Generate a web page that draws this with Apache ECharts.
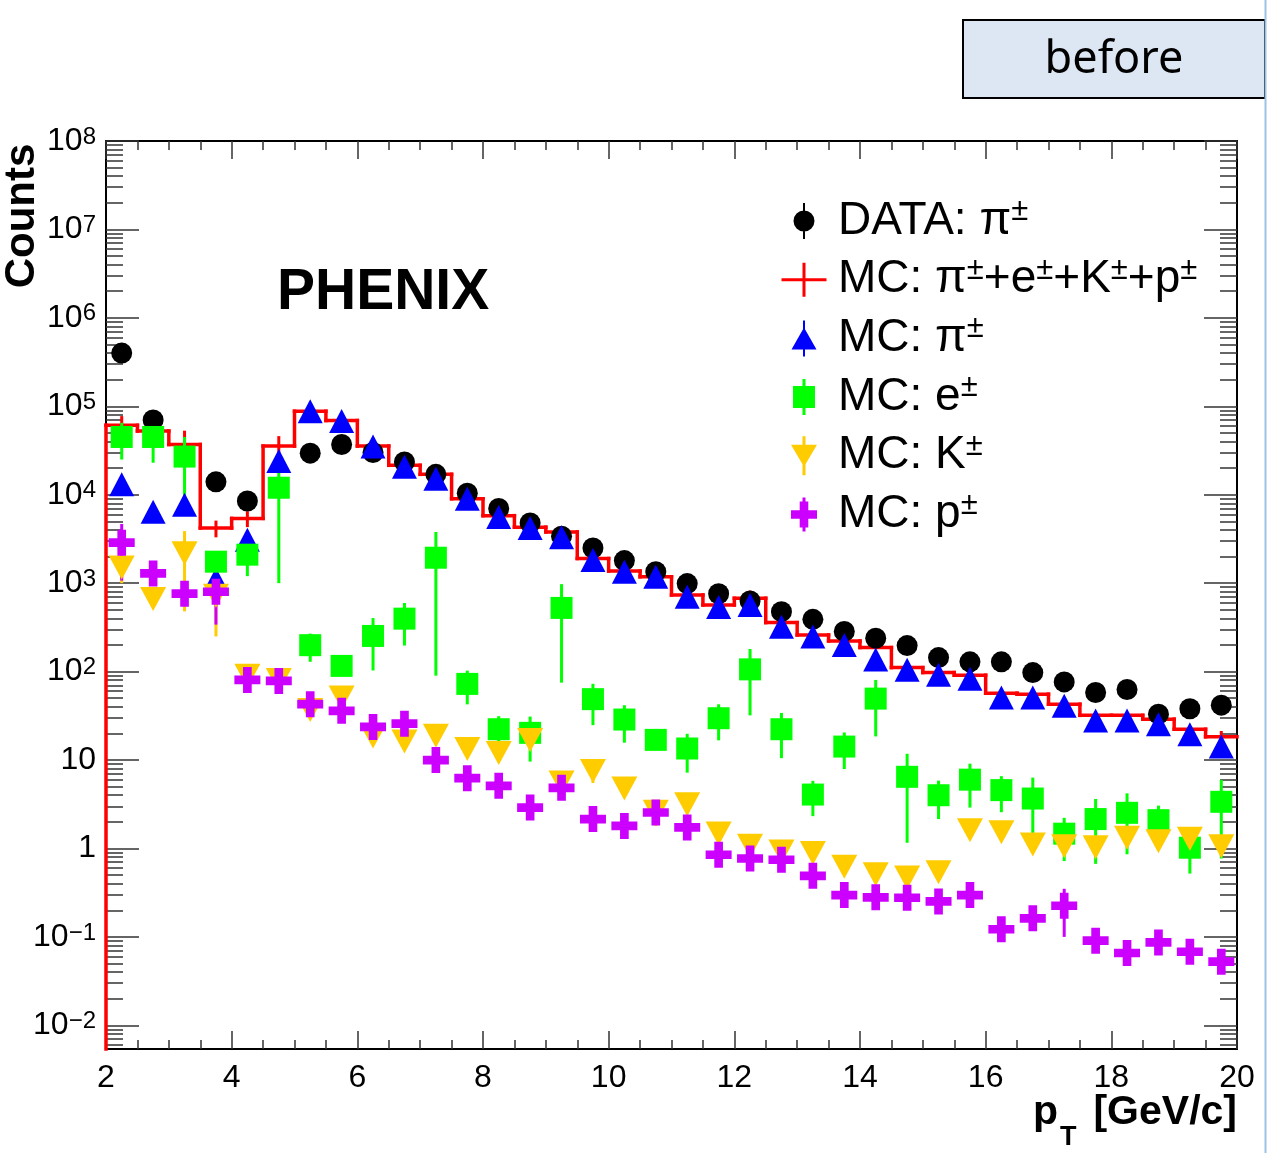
<!DOCTYPE html>
<html lang="en">
<head>
    <meta charset="UTF-8">
    <title>PHENIX pT counts - before</title>
    <script src="https://cdn.jsdelivr.net/npm/echarts@6.0.0/dist/echarts.min.js"></script>
    <style>
        html, body { margin: 0; padding: 0; background: #fff; }
        #chart { width: 1267px; height: 1153px; }
    </style>
</head>
<body>
<div id="chart"></div>
<script type="text/javascript">
    // bin centres (GeV/c), 0.5 GeV wide bins
    var binCenters = [2.25, 2.75, 3.25, 3.75, 4.25, 4.75, 5.25, 5.75, 6.25, 6.75, 7.25, 7.75,
        8.25, 8.75, 9.25, 9.75, 10.25, 10.75, 11.25, 11.75, 12.25, 12.75, 13.25, 13.75,
        14.25, 14.75, 15.25, 15.75, 16.25, 16.75, 17.25, 17.75, 18.25, 18.75, 19.25, 19.75];
    var binWidth = 0.5;

    // DATA: pi+-
    var dataPi = [4.0e5, 7.0e4, null, 1.4e4, 8.5e3, null, 2.95e4, 3.7e4, 3.0e4, 2.35e4, 1.7e4, 1.04e4,
        7.0e3, 4.8e3, 3.4e3, 2.5e3, 1.8e3, 1.35e3, 990, 760, 630, 476, 390, 285,
        238, 197, 144, 129, 129, 97.5, 76.5, 58, 62.7, 33, 38, 41.7];

    // MC: sum of all species (histogram)
    var mcSum = [6.1e4, 5.25e4, 3.7e4, 4.2e3, 5.4e3, 3.55e4, 8.8e4, 6.9e4, 3.55e4, 2.15e4, 1.7e4, 9.0e3,
        5.8e3, 4.3e3, 3.8e3, 1.9e3, 1.37e3, 1.18e3, 735, 568, 675, 358, 260, 222,
        187, 111, 97.5, 91, 57, 55.6, 42.8, 32, 32, 29, 22.3, 18.3];
    var mcSumErr = [1.65e4, 0, 1.6e4, 900, 1100, 1.05e4, 0, 0, 0, 0, 0, 0,
        0, 0, 0, 0, 0, 0, 0, 0, 150, 0, 0, 0,
        0, 0, 0, 0, 0, 0, 0, 0, 0, 0, 0, 3];

    // MC: pi+-
    var mcPi = [1.31e4, 6.4e3, 7.7e3, 1.1e3, 3.1e3, 2.4e4, 8.8e4, 6.8e4, 3.5e4, 2.07e4, 1.52e4, 9.0e3,
        5.6e3, 4.2e3, 3.3e3, 1.83e3, 1.35e3, 1.18e3, 703, 538, 568, 322, 250, 200,
        137, 105, 92, 83, 51, 51, 41, 28, 28, 25.4, 19.6, 14.2];

    // MC: e+-
    var mcE = [4.5e4, 4.5e4, 2.7e4, 1.75e3, 2.1e3, 1.2e4, 199, 116, 253, 397, 1.94e3, 72.6,
        22.3, 20.3, 525, 48.8, 28.7, 16.9, 13.5, 29.7, 106, 22.3, 4.07, 14.2,
        49.5, 6.46, 4.0, 6.0, 4.57, 3.67, 1.47, 2.15, 2.53, 2.09, 1.02, 3.37];
    var mcEErr = [2.0e4, 2.2e4, 1.8e4, 200, 900, 1.1e4, 70, 20, 150, 200, 1.85e3, 30,
        9, 10.7, 450, 24, 13, 4, 6.3, 13, 74, 11.8, 1.75, 6.3,
        31, 5.3, 1.85, 3.1, 2, 2.66, 0.75, 1.48, 1.67, 0.96, 0.5, 2.6];

    // MC: K+-
    var mcK = [1.5e3, 663, 2.18e3, 720, 90, 80.6, 36.9, 51, 18.4, 16.2, 18.8, 13.3,
        12.0, 16.9, 5.57, 7.5, 4.76, 2.6, 3.16, 1.48, 1.07, 0.925, 0.89, 0.62,
        0.51, 0.47, 0.54, 1.61, 1.53, 1.11, 1.06, 1.03, 1.32, 1.21, 1.29, 1.06];
    var mcKErr = [500, 100, 1.7e3, 470, 0, 0, 0, 0, 0, 0, 0, 0,
        0, 0, 1.5, 2, 0, 0.8, 0.7, 0, 0, 0, 0, 0,
        0, 0, 0, 0, 0.3, 0, 0, 0, 0, 0, 0, 0];

    // MC: p+-
    var mcP = [2.87e3, 1.29e3, 760, 800, 80.6, 78.5, 42.8, 36, 23.7, 25.8, 9.98, 6.24,
        5.11, 2.9, 4.85, 2.15, 1.8, 2.55, 1.73, 0.85, 0.77, 0.745, 0.49, 0.297,
        0.28, 0.277, 0.252, 0.297, 0.122, 0.162, 0.225, 0.0906, 0.0657, 0.0867, 0.068, 0.0525];
    var mcPErr = [1.8e3, 0, 0, 460, 0, 0, 0, 0, 0, 0, 0, 0,
        0, 0, 0, 0, 0, 0.4, 0, 0, 0, 0, 0, 0,
        0, 0, 0, 0, 0, 0, 0.125, 0, 0, 0, 0, 0];

    // axis
    var yMin = 0.0054, yMax = 1e8;
    var yMajor = [0.01, 0.1, 1, 10, 100, 1e3, 1e4, 1e5, 1e6, 1e7, 1e8];

    var FONT = 'Liberation Sans';
    var ANCHOR = 'M0,0 L0.01,0 L0,0.01 Z M46,40 L45.99,40 L46,39.99 Z ';

    var yMinor = [];
    for (var n = -3; n < 8; n++) {
        for (var k = 2; k <= 9; k++) {
            var tv = k * Math.pow(10, n);
            if (tv >= yMin && tv <= yMax) yMinor.push(tv);
        }
    }

    function pts(vals) {
        var out = [];
        binCenters.forEach(function (x, i) {
            if (vals[i] != null) out.push([x, vals[i]]);
        });
        return out;
    }

    function errSeries(name, vals, errs, color) {
        return {
            type: 'custom', name: name, silent: true,
            data: binCenters.map(function (x, i) { return [x, vals[i] == null ? '-' : vals[i], errs[i]]; }),
            encode: {x: 0, y: 1},
            renderItem: function (params, api) {
                var v = api.value(1), e = api.value(2), x = api.value(0);
                if (!(v > 0) || !(e > 0)) return;
                var p1 = api.coord([x, Math.max(v - e, yMin)]);
                var p2 = api.coord([x, v + e]);
                return {
                    type: 'line',
                    shape: {x1: p1[0], y1: p1[1], x2: p2[0], y2: p2[1]},
                    style: {stroke: color, lineWidth: 3}
                };
            }
        };
    }

    function scatterSeries(name, vals, symbol, size, color) {
        return {
            type: 'scatter', name: name, silent: true,
            data: pts(vals),
            symbol: symbol, symbolSize: size,
            itemStyle: {color: color, opacity: 1},
            emphasis: {disabled: true}
        };
    }

    var histSeries = {
        type: 'custom', name: 'sum', silent: true,
        itemStyle: {color: '#ff0000'},
        data: binCenters.map(function (x, i) { return [x, mcSum[i], mcSumErr[i]]; }),
        encode: {x: 0, y: 1},
        renderItem: function (params, api) {
            var i = params.dataIndex;
            var x = api.value(0), v = api.value(1), e = api.value(2);
            var l = api.coord([x - binWidth / 2, v]);
            var r = api.coord([x + binWidth / 2, v]);
            var prevY = i === 0 ? params.coordSys.y + params.coordSys.height
                : api.coord([x - binWidth / 2, mcSum[i - 1]])[1];
            var st = {stroke: '#ff0000', lineWidth: 3.5, lineCap: 'square'};
            var children = [
                {type: 'line', shape: {x1: l[0], y1: l[1], x2: r[0], y2: r[1]}, style: st},
                {type: 'line', shape: {x1: l[0], y1: prevY, x2: l[0], y2: l[1]}, style: st}
            ];
            if (e > 0) {
                var c1 = api.coord([x, Math.max(v - e, yMin)]);
                var c2 = api.coord([x, v + e]);
                children.push({type: 'line', shape: {x1: c1[0], y1: c1[1], x2: c2[0], y2: c2[1]},
                    style: {stroke: '#ff0000', lineWidth: 3}});
            }
            return {type: 'group', children: children};
        }
    };

    var SYM_DOWN = 'path://M0,0 L10,0 L5,10 Z';
    var SYM_CROSS = 'path://M3,0 L6,0 L6,3 L9,3 L9,6 L6,6 L6,9 L3,9 L3,6 L0,6 L0,3 L3,3 Z';

    var legendNames = {
        data: 'DATA: π{s|±}',
        sum: 'MC: π{s|±}+e{s|±}+K{s|±}+p{s|±}',
        pi: 'MC: π{s|±}',
        e: 'MC: e{s|±}',
        K: 'MC: K{s|±}',
        p: 'MC: p{s|±}'
    };

    function yLabel(val) {
        var n = Math.round(Math.log(val) / Math.LN10);
        if (n === 0) return '{c|1}';
        if (n === 1) return '{c|10}';
        return '{b|10}{e|' + (n < 0 ? '\u2212' + (-n) : n) + '}';
    }

    function logAxis(position, ticks, len, withLine, withLabel) {
        return {
            type: 'log', logBase: 10, min: yMin, max: yMax, position: position,
            axisLine: {show: withLine, lineStyle: {color: '#000', width: 2}},
            axisTick: {show: true, inside: true, length: len, customValues: ticks,
                lineStyle: {color: '#333', width: 1.5}},
            minorTick: {show: false},
            splitLine: {show: false},
            axisLabel: withLabel ? {
                show: true, customValues: yMajor, margin: 10, formatter: yLabel,
                rich: {
                    c: {fontFamily: FONT, fontSize: 32, lineHeight: 32, color: '#000'},
                    b: {fontFamily: FONT, fontSize: 32, lineHeight: 32, color: '#000', verticalAlign: 'bottom'},
                    e: {fontFamily: FONT, fontSize: 24, lineHeight: 26, padding: [0, 0, 14, 0],
                        color: '#000', verticalAlign: 'top'}
                }
            } : {show: false}
        };
    }

    function xAxisCfg(position, withLabel) {
        return {
            type: 'value', min: 2, max: 20, interval: 2, position: position,
            axisLine: {show: true, onZero: false, lineStyle: {color: '#000', width: 2}},
            axisTick: {show: true, inside: true, length: 18, lineStyle: {color: '#333', width: 1.5}},
            minorTick: {show: true, splitNumber: 4, length: 9, lineStyle: {color: '#333', width: 1.5}},
            splitLine: {show: false},
            axisLabel: withLabel ? {show: true, fontFamily: FONT, fontSize: 32, color: '#000', margin: 13}
                : {show: false}
        };
    }

    var chart = echarts.init(document.getElementById('chart'));
    chart.setOption({
        animation: false,
        backgroundColor: '#fff',
        grid: {left: 106, right: 30, top: 141, bottom: 104, containLabel: false, outerBoundsMode: 'none'},
        xAxis: [xAxisCfg('bottom', true), xAxisCfg('top', false)],
        yAxis: [
            logAxis('left', yMajor, 33, true, true),
            logAxis('left', yMinor, 17, false, false),
            logAxis('right', yMajor, 33, true, false),
            logAxis('right', yMinor, 17, false, false)
        ],
        legend: {
            orient: 'vertical', left: 781, top: 196, padding: 0,
            itemWidth: 46, itemHeight: 40, itemGap: 8.7,
            selectedMode: false,
            formatter: function (name) { return legendNames[name]; },
            textStyle: {
                fontFamily: FONT, fontSize: 46, lineHeight: 50, color: '#000', padding: [0, 0, 0, 6],
                rich: {s: {fontFamily: FONT, fontSize: 31, lineHeight: 30, color: '#000', verticalAlign: 'top'}}
            },
            data: [
                {name: 'data', icon: 'path://' + ANCHOR +
                    'M12.5,20 A10.5,10.5 0 1 1 33.5,20 A10.5,10.5 0 1 1 12.5,20 Z M22,2 L24,2 L24,38 L22,38 Z'},
                {name: 'sum', icon: 'path://' + ANCHOR +
                    'M0.5,18.5 L45.5,18.5 L45.5,21.5 L0.5,21.5 Z M21.5,3 L24.5,3 L24.5,37 L21.5,37 Z'},
                {name: 'pi', icon: 'path://' + ANCHOR +
                    'M23,9 L35.5,31 L10.5,31 Z M22,2 L24,2 L24,38 L22,38 Z'},
                {name: 'e', icon: 'path://' + ANCHOR +
                    'M12,9 L34,9 L34,31 L12,31 Z M21.5,2 L24.5,2 L24.5,38 L21.5,38 Z'},
                {name: 'K', icon: 'path://' + ANCHOR +
                    'M10,9 L36,9 L23,31 Z M21.5,0.5 L24.5,0.5 L24.5,39.5 L21.5,39.5 Z'},
                {name: 'p', icon: 'path://' + ANCHOR +
                    'M18.7,7 L27.3,7 L27.3,15.7 L36,15.7 L36,24.3 L27.3,24.3 L27.3,33 L18.7,33 L18.7,24.3 L10,24.3 L10,15.7 L18.7,15.7 Z M21.5,3 L24.5,3 L24.5,37 L21.5,37 Z'}
            ]
        },
        graphic: [
            {type: 'rect', shape: {x: 963, y: 20, width: 302, height: 78},
                style: {fill: '#dde7f3', stroke: '#000', lineWidth: 2}},
            {type: 'text', x: 1114, y: 60,
                style: {text: 'before', font: '45px "Noto Sans"', fill: '#000', align: 'center', verticalAlign: 'middle'}},
            {type: 'line', shape: {x1: 1265.5, y1: 0, x2: 1265.5, y2: 1153},
                style: {stroke: '#9ec1e6', lineWidth: 2}},
            {type: 'text', x: 277, y: 293,
                style: {text: 'PHENIX', font: 'bold 57px "Liberation Sans"', fill: '#000', align: 'left', verticalAlign: 'middle'}},
            {type: 'text', x: 22, y: 216, rotation: Math.PI / 2,
                style: {text: 'Counts', font: 'bold 42px "Liberation Sans"', fill: '#000', align: 'center', verticalAlign: 'middle'}},
            {type: 'text', x: 1237, y: 1113,
                style: {text: '[GeV/c]', font: 'bold 41px "Liberation Sans"', fill: '#000', align: 'right', verticalAlign: 'middle'}},
            {type: 'text', x: 1033, y: 1113,
                style: {text: 'p', font: 'bold 41px "Liberation Sans"', fill: '#000', align: 'left', verticalAlign: 'middle'}},
            {type: 'text', x: 1060, y: 1138,
                style: {text: 'T', font: 'bold 27px "Liberation Sans"', fill: '#000', align: 'left', verticalAlign: 'middle'}}
        ],
        series: [
            scatterSeries('data', dataPi, 'circle', 21, '#000000'),
            histSeries,
            scatterSeries('pi', mcPi, 'triangle', [25, 24], '#0000ff'),
            errSeries('eErr', mcE, mcEErr, '#00ff00'),
            scatterSeries('e', mcE, 'rect', [22, 22], '#00ff00'),
            errSeries('kErr', mcK, mcKErr, '#ffcc00'),
            scatterSeries('K', mcK, SYM_DOWN, [26, 24], '#ffcc00'),
            errSeries('pErr', mcP, mcPErr, '#cc00ff'),
            scatterSeries('p', mcP, SYM_CROSS, [26, 26], '#cc00ff')
        ]
    });
</script>
</body>
</html>
